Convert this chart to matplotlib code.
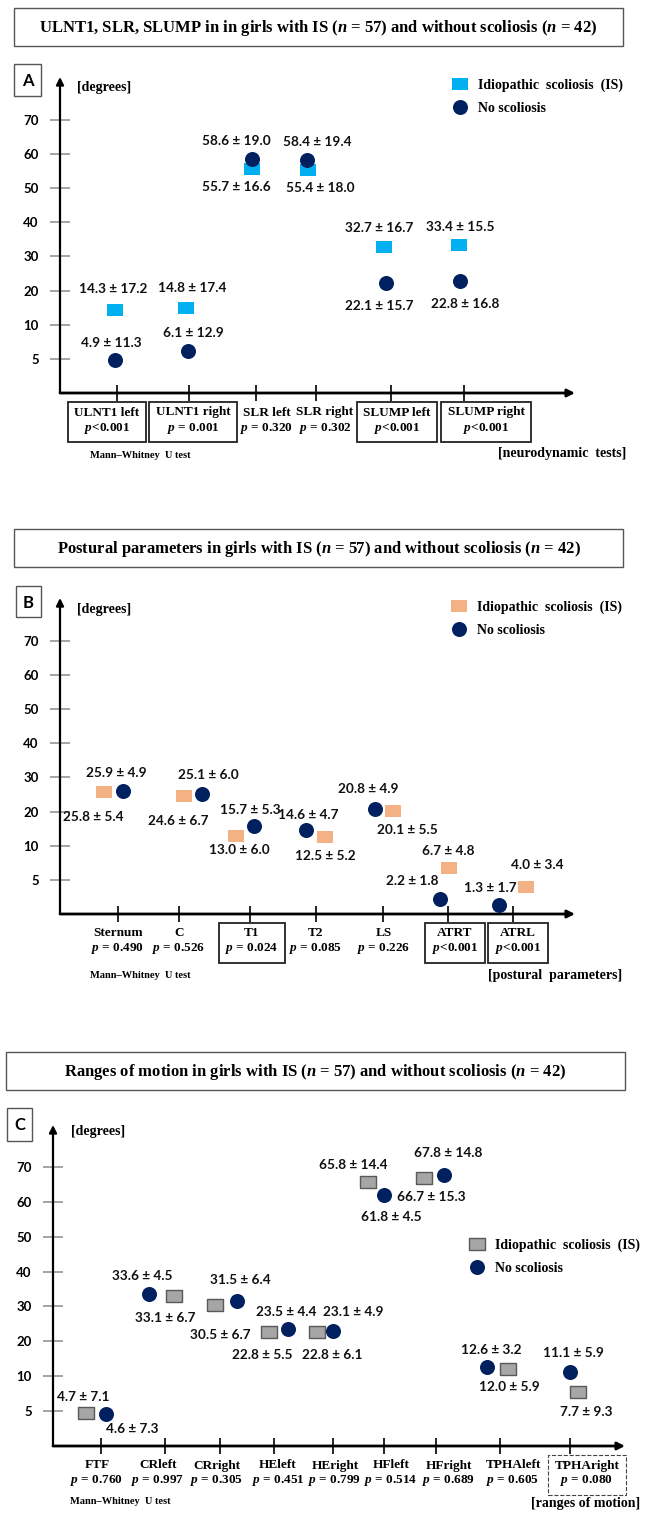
import numpy as np
import matplotlib
matplotlib.use('Agg')
import matplotlib.pyplot as plt
from matplotlib.patches import Rectangle

plt.rcParams['mathtext.fontset'] = 'custom'
plt.rcParams['mathtext.it'] = 'Liberation Serif:italic:bold'
plt.rcParams['mathtext.rm'] = 'Liberation Serif:bold'

W, H = 646, 1515
SERIF = 'Liberation Serif'
SANS = 'Lato'
NAVY = '#002060'

# ---- data -------------------------------------------------------------
# A: neurodynamic tests
tests_a = ['ULNT1 left', 'ULNT1 right', 'SLR left', 'SLR right', 'SLUMP left', 'SLUMP right']
p_a = ['$p$<0.001', '$p$ = 0.001', '$p$ = 0.320', '$p$ = 0.302', '$p$<0.001', '$p$<0.001']
sig_a = [True, True, False, False, True, True]
is_mean_a = [14.3, 14.8, 55.7, 55.4, 32.7, 33.4]
is_sd_a = [17.2, 17.4, 16.6, 18.0, 16.7, 15.5]
no_mean_a = [4.9, 6.1, 58.6, 58.4, 22.1, 22.8]
no_sd_a = [11.3, 12.9, 19.0, 19.4, 15.7, 16.8]

# B: postural parameters
params_b = ['Sternum', 'C', 'T1', 'T2', 'LS', 'ATRT', 'ATRL']
p_b = ['$p$ = 0.490', '$p$ = 0.526', '$p$ = 0.024', '$p$ = 0.085', '$p$ = 0.226', '$p$<0.001', '$p$<0.001']
sig_b = [False, False, True, False, False, True, True]
is_mean_b = [25.8, 24.6, 13.0, 12.5, 20.1, 6.7, 4.0]
is_sd_b = [5.4, 6.7, 6.0, 5.2, 5.5, 4.8, 3.4]
no_mean_b = [25.9, 25.1, 15.7, 14.6, 20.8, 2.2, 1.3]
no_sd_b = [4.9, 6.0, 5.3, 4.7, 4.9, 1.8, 1.7]

# C: ranges of motion
rom_c = ['FTF', 'CRleft', 'CRright', 'HEleft', 'HEright', 'HFleft', 'HFright', 'TPHAleft', 'TPHAright']
p_c = ['$p$ = 0.760', '$p$ = 0.997', '$p$ = 0.305', '$p$ = 0.451', '$p$ = 0.799',
       '$p$ = 0.514', '$p$ = 0.689', '$p$ = 0.605', '$p$ = 0.080']
sig_c = [False] * 8 + ['dashed']
is_mean_c = [4.7, 33.1, 30.5, 22.8, 22.8, 65.8, 66.7, 12.0, 7.7]
is_sd_c = [7.1, 6.7, 6.7, 5.5, 6.1, 14.4, 15.3, 5.9, 9.3]
no_mean_c = [4.6, 33.6, 31.5, 23.5, 23.1, 61.8, 67.8, 12.6, 11.1]
no_sd_c = [7.3, 4.5, 6.4, 4.4, 4.9, 4.5, 14.8, 3.2, 5.9]

yticks = [5, 10, 20, 30, 40, 50, 60, 70]

# y axis: 0, 5, 10, 20 ... 70 drawn equally spaced
y_levels = [0, 5, 10, 20, 30, 40, 50, 60, 70, 80, 90]


def fwd(v):
    return np.interp(v, y_levels, np.arange(len(y_levels)))


def inv(u):
    return np.interp(u, np.arange(len(y_levels)), y_levels)


rect_marker = [(-1.42, -1), (1.42, -1), (1.42, 1), (-1.42, 1), (-1.42, -1)]

fig = plt.figure(figsize=(W / 100, H / 100), dpi=100)
bg = fig.add_axes([0, 0, 1, 1], zorder=0)
bg.set_xlim(0, W)
bg.set_ylim(H, 0)
bg.axis('off')


def panel(rect, top, ticks, lab_dx, cats, pvals, boxed, is_m, is_s, no_m, no_s,
          is_dx, no_dx, is_off, no_off, sq_face, sq_edge, leg_xy):
    x0, x1, ytop, ybot = rect
    ax = fig.add_axes([x0 / W, 1 - ybot / H, (x1 - x0) / W, (ybot - ytop) / H], zorder=1)
    ax.patch.set_visible(False)
    ax.set_yscale('function', functions=(fwd, inv))
    ax.set_xlim(x0, x1)
    ax.set_ylim(0, top)
    for s in ax.spines.values():
        s.set_visible(False)
    ax.annotate('', xy=(0, 1), xytext=(0, 0), xycoords='axes fraction',
                arrowprops=dict(arrowstyle='-|>', lw=1.6, color='black',
                                mutation_scale=11, shrinkA=0, shrinkB=0))
    ax.annotate('', xy=(1, 0), xytext=(0, 0), xycoords='axes fraction',
                arrowprops=dict(arrowstyle='-|>', lw=2.0, color='black',
                                mutation_scale=11, shrinkA=0, shrinkB=0))

    ax.set_yticks(yticks)
    ax.set_yticklabels([str(t) for t in yticks])
    ax.yaxis.set_minor_locator(plt.NullLocator())
    ax.tick_params(axis='y', direction='inout', length=14.5, width=1.1,
                   color='#8c8c8c', pad=8, labelsize=9.5)
    for lbl in ax.get_yticklabels():
        lbl.set_fontfamily(SANS)
        lbl.set_fontweight('bold')

    ax.set_xticks(ticks)
    ax.set_xticklabels([])
    ax.tick_params(axis='x', direction='inout', length=11, width=1.2, color='black')
    for t, dx, c, p, b in zip(ticks, lab_dx, cats, pvals, boxed):
        bb = None
        if b == 'dashed':
            bb = dict(boxstyle='square,pad=0.5', fc='white', ec='#444444', lw=0.8, ls='--')
        elif b:
            bb = dict(boxstyle='square,pad=0.5', fc='white', ec='#222222', lw=1.3)
        ax.annotate(f'{c}\n{p}', xy=(t, 0), xytext=(dx, -28), textcoords='offset pixels',
                    ha='center', va='center', fontfamily=SERIF, fontweight='bold',
                    fontsize=9.5, linespacing=1.2, bbox=bb, annotation_clip=False)

    xs_is = [t + d for t, d in zip(ticks, is_dx)]
    xs_no = [t + d for t, d in zip(ticks, no_dx)]
    h_is, = ax.plot(xs_is, is_m, ls='none', marker=rect_marker, ms=12.2,
                    mfc=sq_face, mec=sq_edge, mew=1 if sq_edge != sq_face else 0,
                    clip_on=False, zorder=3)
    h_no, = ax.plot(xs_no, no_m, ls='none', marker='o', ms=10.8, mfc=NAVY,
                    mec=NAVY, mew=0, clip_on=False, zorder=3)

    for x, m, s, off in zip(xs_is, is_m, is_s, is_off):
        ax.annotate(f'{m:.1f} ± {s:.1f}', xy=(x, m), xytext=(off[0], -off[1]),
                    textcoords='offset pixels', ha='center', va='center',
                    fontfamily=SANS, fontweight='bold', fontsize=9.8, color='#111111')
    for x, m, s, off in zip(xs_no, no_m, no_s, no_off):
        ax.annotate(f'{m:.1f} ± {s:.1f}', xy=(x, m), xytext=(off[0], -off[1]),
                    textcoords='offset pixels', ha='center', va='center',
                    fontfamily=SANS, fontweight='bold', fontsize=9.8, color='#111111')

    ax.legend([h_is, h_no], ['Idiopathic  scoliosis  (IS)', 'No scoliosis'],
              loc='upper left', bbox_to_anchor=(leg_xy[0] / W, 1 - leg_xy[1] / H),
              bbox_transform=fig.transFigure, frameon=False, numpoints=1,
              prop=dict(family=SERIF, weight='bold', size=10),
              handlelength=1.2, handletextpad=0.7, labelspacing=0.7,
              borderpad=0, borderaxespad=0)
    return ax


panel((60, 575, 77, 393), 82.6, [117, 189, 256, 316, 391, 464], [-10, 4, 11, 9, 6, 22],
      tests_a, p_a, sig_a, is_mean_a, is_sd_a, no_mean_a, no_sd_a,
      [-2, -3, -4, -8, -7, -5], [-2, -1, -4, -9, -5, -4],
      [(-2, -21), (6, -20), (-16, 18), (12, 18), (-5, -19), (1, -18)],
      [(-4, -17), (5, -18), (-16, -18), (10, -18), (-7, 23), (5, 23)],
      '#00B0F0', '#00B0F0', (452, 79))

panel((60, 575, 598, 914), 82.6, [118, 179, 250, 316, 383, 448, 513], [0, 0, 2, 0, 1, 7, 5],
      params_b, p_b, sig_b, is_mean_b, is_sd_b, no_mean_b, no_sd_b,
      [-14, 5, -14, 9, 10, 1, 13], [5, 23, 4, -10, -8, -8, -14],
      [(-11, 25), (-6, 25), (3, 14), (0, 19), (14, 19), (-1, -17), (11, -22)],
      [(-7, -18), (6, -19), (-4, -16), (2, -15), (-7, -20), (-28, -18), (-9, -17)],
      '#F4B183', '#F4B183', (451, 601))

panel((53, 625, 1125, 1446), 82.0, [101, 165, 220, 274, 333, 384, 436, 500, 570],
      [-4, -7, -3, 4, 2, 7, 13, 13, 17],
      rom_c, p_c, sig_c, is_mean_c, is_sd_c, no_mean_c, no_sd_c,
      [-15, 9, -5, -5, -16, -16, -12, 8, 8], [5, -16, 17, 14, 0, 0, 8, -13, 0],
      [(-3, -16), (-9, 22), (5, 30), (-7, 23), (15, 23), (-15, -17), (7, 19), (1, 18), (8, 20)],
      [(26, 15), (-7, -18), (3, -21), (-2, -17), (20, -19), (7, 22), (4, -22), (4, -17), (3, -19)],
      '#A6A6A6', '#595959', (469, 1239))

# ---- titles, letter boxes, axis names ---------------------------------
titles = [
    'ULNT1, SLR, SLUMP in in girls with IS ($n$ = 57) and without scoliosis ($n$ = 42)',
    'Postural parameters in girls with IS ($n$ = 57) and without scoliosis ($n$ = 42)',
    'Ranges of motion in girls with IS ($n$ = 57) and without scoliosis ($n$ = 42)',
]
title_boxes = [(14, 8, 609, 38), (14, 529, 609, 38), (6, 1052, 619, 38)]
for t, (bx, by, bw, bh) in zip(titles, title_boxes):
    bg.add_patch(Rectangle((bx, by), bw, bh, fill=False, ec='#555555', lw=1))
    bg.text(bx + bw / 2, by + bh / 2 + 1, t, ha='center', va='center',
            fontfamily=SERIF, fontweight='bold', fontsize=12)

letters = ['A', 'B', 'C']
letter_boxes = [(14, 64, 27, 32), (16, 586, 25, 31), (7, 1108, 25, 33)]
for L, (bx, by, bw, bh) in zip(letters, letter_boxes):
    bg.add_patch(Rectangle((bx, by), bw, bh, fill=False, ec='#555555', lw=1))
    bg.text(bx + bw / 2, by + bh / 2 + 1, L, ha='center', va='center',
            fontfamily=SANS, fontweight='bold', fontsize=12)

for x, y in [(77, 87), (77, 609), (71, 1132)]:
    bg.text(x, y, '[degrees]', ha='left', va='center',
            fontfamily=SERIF, fontweight='bold', fontsize=10)

for x, y in [(140, 456), (140, 976), (120, 1502)]:
    bg.text(x, y, 'Mann–Whitney  U test', ha='center', va='center',
            fontfamily=SERIF, fontweight='bold', fontsize=7.5)

for x, y, s in [(626, 453, '[neurodynamic  tests]'),
                (622, 976, '[postural  parameters]'),
                (640, 1503, '[ranges of motion]')]:
    bg.text(x, y, s, ha='right', va='center',
            fontfamily=SERIF, fontweight='bold', fontsize=10)

fig.savefig('out.png', dpi=100, facecolor='white')
